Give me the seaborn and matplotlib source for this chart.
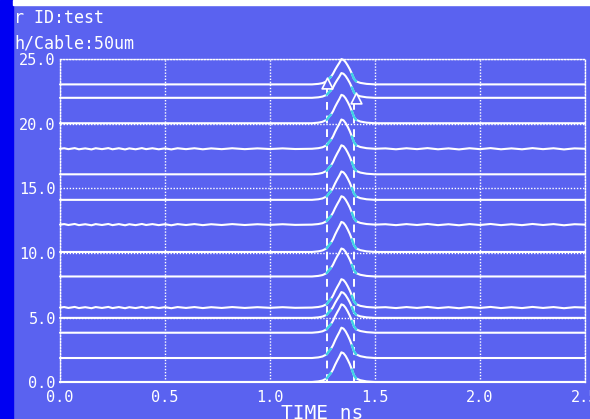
import numpy as np
import pandas as pd
import matplotlib
matplotlib.use("Agg")
import matplotlib.pyplot as plt
import seaborn as sns

# ---- data ----
header_lines = ["r ID:test", "h/Cable:50um"]
x_ticks = [0.0, 0.5, 1.0, 1.5, 2.0, 2.5]
x_tick_labels = ["0.0", "0.5", "1.0", "1.5", "2.0", "2.5"]
y_ticks = [0.0, 5.0, 10.0, 15.0, 20.0, 25.0]
y_tick_labels = ["0.0", "5.0", "10.0", "15.0", "20.0", "25.0"]
x_label = "TIME ns"

# trace baselines (bottom to top), peak amplitude, and whether trace has visible ripple
baselines = [0.0, 1.86, 3.82, 4.97, 5.77, 8.18, 10.08, 12.2, 14.12, 16.1, 18.08, 20.06, 22.03, 23.07]
amplitudes = [2.3, 2.35, 2.2, 2.0, 2.2, 2.17, 2.33, 2.2, 2.2, 2.25, 2.27, 2.2, 1.92, 1.96]
wavy = [False, False, False, False, True, False, False, True, False, False, True, False, False, False]

# normalised pulse profile (time ns, relative height)
pulse_t = [1.20, 1.23, 1.25, 1.27, 1.28, 1.29, 1.30, 1.31, 1.32, 1.33, 1.34, 1.35,
           1.36, 1.37, 1.38, 1.39, 1.40, 1.41, 1.43, 1.46, 1.50]
pulse_v = [0.00, 0.02, 0.05, 0.12, 0.22, 0.30, 0.42, 0.58, 0.72, 0.85, 1.00, 0.97,
           0.88, 0.75, 0.60, 0.42, 0.22, 0.12, 0.06, 0.02, 0.00]

# baseline ripple on the noisier traces (time ns, offset)
ripple_left_t = [0.02, 0.04, 0.07, 0.09, 0.12, 0.15, 0.17, 0.20, 0.23, 0.25, 0.28, 0.31,
                 0.33, 0.36, 0.39, 0.41, 0.44, 0.47, 0.50, 0.53, 0.56, 0.60, 0.64, 0.68,
                 0.72, 0.77, 0.82, 0.88, 0.94, 1.00, 1.06, 1.12]
ripple_left_v = [0.04, -0.03, 0.05, -0.04, 0.03, -0.05, 0.04, -0.03, 0.05, -0.04, 0.04,
                 -0.05, 0.03, -0.04, 0.05, -0.03, 0.04, -0.04, 0.03, -0.05, 0.04, -0.03,
                 0.04, -0.04, 0.03, -0.03, 0.04, -0.03, 0.03, -0.02, 0.03, -0.02]
ripple_right_t = [1.55, 1.60, 1.65, 1.70, 1.75, 1.80, 1.85, 1.90, 1.95, 2.00, 2.05, 2.10,
                  2.15, 2.20, 2.25, 2.30, 2.35, 2.40, 2.45]
ripple_right_v = [0.03, -0.04, 0.04, -0.03, 0.05, -0.04, 0.03, -0.05, 0.04, -0.03, 0.05,
                  -0.04, 0.03, -0.04, 0.05, -0.03, 0.04, -0.05, 0.03]

marker_left = (1.27, 23.15)
marker_right = (1.408, 21.99)
dash_left_x, dash_left_top = 1.27, 22.9
dash_right_x, dash_right_top = 1.402, 21.75

# ---- build long table ----
rows = []
for i, (b, a, w) in enumerate(zip(baselines, amplitudes, wavy)):
    pts = [(0.0, b)]
    if w:
        pts += [(t, b + v) for t, v in zip(ripple_left_t, ripple_left_v)]
    pts += [(t, b + a * v) for t, v in zip(pulse_t, pulse_v)]
    if w:
        pts += [(t, b + v) for t, v in zip(ripple_right_t, ripple_right_v)]
    pts += [(2.5, b)]
    for t, v in pts:
        rows.append({"trace": i, "t": t, "v": v})
df = pd.DataFrame(rows)

BG = "#5a62f0"
sns.set_style("white")
plt.rcParams["font.family"] = ["DejaVu Sans Mono", "DejaVu Sans"]

fig = plt.figure(figsize=(5.9, 4.19), dpi=100)
fig.patch.set_facecolor(BG)
W, H = 590, 419
ax = fig.add_axes([60 / W, (H - 382) / H, 525 / W, (382 - 59.5) / H])
ax.set_facecolor(BG)

# decorations: blue side strip and white top strip
fig.patches.append(plt.Rectangle((0, 0), 13 / W, 1, transform=fig.transFigure,
                                 color="#0000f2", zorder=0))
fig.patches.append(plt.Rectangle((13 / W, 1 - 5 / H), 1, 5 / H, transform=fig.transFigure,
                                 color="white", zorder=0))

ax.set_xlim(0, 2.5)
ax.set_ylim(0, 25)
ax.grid(True, color="white", linestyle=(0, (1, 1.2)), linewidth=1.0)
ax.set_axisbelow(True)

sns.lineplot(data=df, x="t", y="v", units="trace", estimator=None, sort=False,
             color="white", linewidth=1.5, ax=ax, clip_on=False, zorder=3)

# cyan edge highlights
for i in range(len(baselines)):
    sub = df[df.trace == i]
    for lo, hi in [(1.27, 1.29), (1.39, 1.41)]:
        s = sub[(sub.t >= lo) & (sub.t <= hi)]
        ax.plot(s.t, s.v, color="#3fd2e6", linewidth=1.7, zorder=4)

ax.vlines(dash_left_x, 0, dash_left_top, colors="white", linestyles=(0, (4, 3)),
          linewidth=1.4, zorder=2)
ax.vlines(dash_right_x, 0, dash_right_top, colors="white", linestyles=(0, (4, 3)),
          linewidth=1.4, zorder=2)
ax.scatter([marker_left[0], marker_right[0]], [marker_left[1], marker_right[1]],
           marker="^", s=60, facecolor=BG, edgecolor="white", linewidth=1.2, zorder=5)

for side in ["left", "top", "right"]:
    ax.spines[side].set_color("white")
    ax.spines[side].set_linestyle((0, (1, 1.2)))
    ax.spines[side].set_linewidth(1.0)
ax.spines["bottom"].set_color("white")
ax.spines["bottom"].set_linewidth(1.5)

ax.set_xticks(x_ticks, labels=x_tick_labels)
ax.set_yticks(y_ticks, labels=y_tick_labels)
ax.tick_params(axis="both", length=0, colors="white", labelsize=11)
ax.tick_params(axis="x", pad=6)
ax.tick_params(axis="y", pad=3)
for lab in ax.get_xticklabels() + ax.get_yticklabels():
    lab.set_clip_on(False)
ax.set_xlabel(x_label, color="white", fontsize=14, labelpad=-1)
ax.set_ylabel("")

fig.text(14 / W, 1 - 22.7 / H, header_lines[0], color="white", fontsize=12,
         va="baseline", ha="left")
fig.text(14 / W, 1 - 48.3 / H, header_lines[1], color="white", fontsize=12,
         va="baseline", ha="left")

fig.savefig("out.png", dpi=100, facecolor=BG)
